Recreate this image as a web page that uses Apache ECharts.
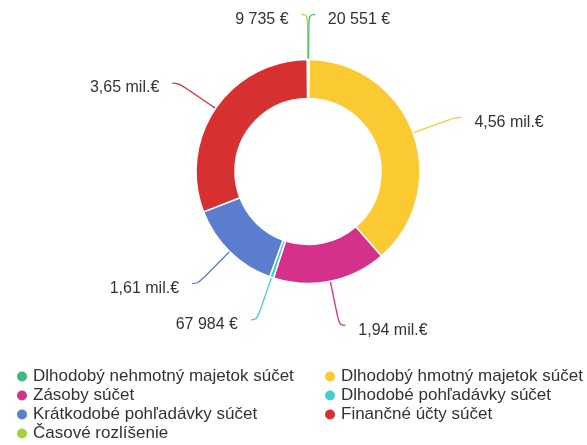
<!DOCTYPE html>
<html>
<head>
<meta charset="utf-8">
<script src="https://cdn.jsdelivr.net/npm/echarts@6/dist/echarts.min.js"></script>
<style>
  html, body { margin: 0; padding: 0; background: #fff; }
  #chart { width: 587px; height: 445px; }
</style>
</head>
<body>
<div id="chart"></div>
<script>
  // položky súvahy (poradie v koláči, v smere hodinových ručičiek od vrchu)
  var categories = [
    'Dlhodobý nehmotný majetok súčet',
    'Dlhodobý hmotný majetok súčet',
    'Zásoby súčet',
    'Dlhodobé pohľadávky súčet',
    'Krátkodobé pohľadávky súčet',
    'Finančné účty súčet',
    'Časové rozlíšenie'
  ]
  var values = [20551, 4560000, 1940000, 67984, 1610000, 3650000, 9735]

  // legenda v dvoch stĺpcoch
  var legendLeft = [categories[0], categories[2], categories[4], categories[6]]
  var legendRight = [categories[1], categories[3], categories[5]]

  var palette = ['#3dbb7e', '#fbc932', '#d6318a', '#3ecfd4', '#5b7dcd', '#d63030', '#a5d23c']

  function formatEur(v) {
    if (v >= 1000000) {
      return (v / 1000000).toFixed(2).replace('.', ',') + ' mil.€'
    }
    return String(v).replace(/\B(?=(\d{3})+(?!\d))/g, ' ') + ' €'
  }

  var pieData = categories.map(function (name, i) {
    return { name: name, value: values[i] }
  })

  var legendBase = {
    orient: 'vertical',
    top: 367,
    padding: 0,
    icon: 'circle',
    itemWidth: 12,
    itemHeight: 12,
    itemGap: 0,
    selectedMode: false,
    textStyle: {
      fontFamily: 'Liberation Sans, Arial, sans-serif',
      fontSize: 17,
      color: '#333',
      lineHeight: 19
    }
  }

  var chart = echarts.init(document.getElementById('chart'))
  chart.setOption({
    color: palette,
    animation: false,
    legend: [
      Object.assign({}, legendBase, { left: 15, data: legendLeft }),
      Object.assign({}, legendBase, { left: 323, data: legendRight })
    ],
    series: [{
      type: 'pie',
      center: [308, 171.5],
      radius: [73, 112],
      startAngle: 90,
      clockwise: true,
      avoidLabelOverlap: false,
      itemStyle: {
        borderColor: '#fff',
        borderWidth: 1.5
      },
      label: {
        show: true,
        position: 'outside',
        distanceToLabelLine: 13,
        formatter: function (p) { return '{v|' + formatEur(p.value) + '}' },
        rich: {
          v: {
            fontFamily: 'Liberation Sans, Arial, sans-serif',
            fontSize: 16,
            color: '#333',
            padding: [10, 0, 0, 0]
          }
        }
      },
      labelLine: {
        show: true,
        length: 45,
        length2: 6,
        smooth: 0.5,
        lineStyle: { width: 1.3 }
      },
      data: pieData
    }]
  })
</script>
</body>
</html>
